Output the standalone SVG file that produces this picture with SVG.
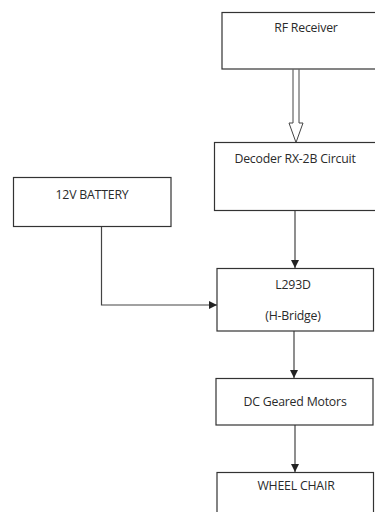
<svg xmlns="http://www.w3.org/2000/svg" width="375" height="512" viewBox="0 0 375 512">
<style>
.box{fill:#fff;stroke:#333;stroke-width:1.2}
.t{font-family:"Open Sans","Liberation Sans",sans-serif;font-size:12.3px;fill:#2a2a2a;text-anchor:middle;letter-spacing:-0.2px}
.c{fill:none;stroke:#444;stroke-width:1.2}
</style>
<defs>
<marker id="ah" viewBox="0 0 10 10" refX="10" refY="5" markerWidth="8" markerHeight="8" markerUnits="userSpaceOnUse" orient="auto">
<path d="M0,0 L10,5 L0,10 Z" fill="#222"/>
</marker>
</defs>
<rect width="375" height="512" fill="#fff"/>
<g id="connectors">
<path d="M293,69.5 V123 H289 L296,142.5 L303,123 H299 V69.5" fill="#fff" stroke="#444" stroke-width="1"/>
<line class="c" x1="295" y1="211" x2="295" y2="268" marker-end="url(#ah)"/>
<polyline class="c" points="101.5,227 101.5,305 217,305" marker-end="url(#ah)"/>
<line class="c" x1="294" y1="331" x2="294" y2="378" marker-end="url(#ah)"/>
<line class="c" x1="295" y1="425" x2="295" y2="472" marker-end="url(#ah)"/>
</g>
<g id="rf">
<rect class="box" x="222" y="12.5" width="160" height="56.5"/>
<text class="t" x="306" y="32">RF Receiver</text>
</g>
<g id="decoder">
<rect class="box" x="214.5" y="142.5" width="170" height="68"/>
<text class="t" x="295" y="163">Decoder RX-2B Circuit</text>
</g>
<g id="battery">
<rect class="box" x="13.5" y="177.5" width="157.5" height="49"/>
<text class="t" x="92" y="199">12V BATTERY</text>
</g>
<g id="l293d">
<rect class="box" x="217" y="268.5" width="156.5" height="62.5"/>
<text class="t" x="293" y="289">L293D</text>
<text class="t" x="293" y="320">(H-Bridge)</text>
</g>
<g id="motors">
<rect class="box" x="216" y="378.5" width="157" height="46.5"/>
<text class="t" x="295" y="406">DC Geared Motors</text>
</g>
<g id="wheelchair">
<rect class="box" x="217" y="472.5" width="156.5" height="50"/>
<text class="t" x="296" y="490">WHEEL CHAIR</text>
</g>
</svg>
